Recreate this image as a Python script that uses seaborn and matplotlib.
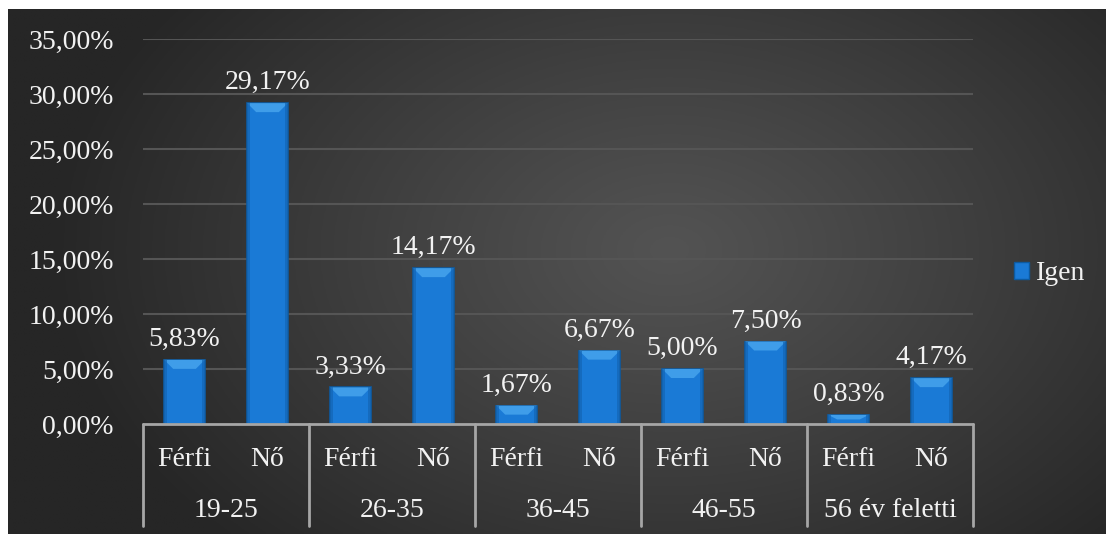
import numpy as np
import pandas as pd
import matplotlib
matplotlib.use("Agg")
import matplotlib.pyplot as plt
import matplotlib.transforms as mtransforms
from matplotlib.patches import Polygon, Patch
import seaborn as sns

# Data: share of "Igen" answers by age group and gender
age_groups = ["19-25", "26-35", "36-45", "46-55", "56 év feletti"]
genders = ["Férfi", "Nő"]
igen = [5.83, 29.17, 3.33, 14.17, 1.67, 6.67, 5.00, 7.50, 0.83, 4.17]
y_ticks = [0, 5, 10, 15, 20, 25, 30, 35]
series_name = "Igen"

rows = []
for gi, g in enumerate(age_groups):
    for si, s in enumerate(genders):
        rows.append({"key": f"{g}|{s}", "age": g, "gender": s,
                     "value": igen[gi * len(genders) + si] / 100})
df = pd.DataFrame(rows)

sns.set_theme(style="white")
plt.rcParams["font.family"] = ["Liberation Serif", "DejaVu Serif"]

W, H, DPI = 1106, 534, 100
fig = plt.figure(figsize=(W / DPI, H / DPI), dpi=DPI, facecolor="white")

# Dark radial-gradient panel
bg = fig.add_axes([8 / W, 0, 1 - 8 / W, 525 / H])
bg.set_axis_off()
gx = np.linspace(8, W, 400)
gy = np.linspace(9, H, 200)
X, Y = np.meshgrid(gx, gy)
t = np.sqrt(((X - 670) / 620) ** 2 + ((Y - 250) / 420) ** 2)
t = np.clip(t, 0, 1) ** 1.1
c0 = np.array([0x53, 0x53, 0x53]) / 255
c1 = np.array([0x26, 0x26, 0x26]) / 255
img = c0[None, None, :] * (1 - t[..., None]) + c1[None, None, :] * t[..., None]
bg.imshow(img, aspect="auto", extent=[0, 1, 0, 1], origin="upper")
bg.set_xlim(0, 1)
bg.set_ylim(0, 1)

# Plot area
left, right, top, bottom = 143, 973, 39, 424
ax = fig.add_axes([left / W, 1 - bottom / H, (right - left) / W, (bottom - top) / H])
ax.patch.set_alpha(0)

bar_color = "#1a7ad6"
sns.barplot(data=df, x="key", y="value", order=df["key"].tolist(),
            color=bar_color, saturation=1, width=0.49, ax=ax,
            edgecolor="#0d5aa0", linewidth=1.2, zorder=3)

ax.set_xlim(-0.5, len(df) - 0.5)
ax.set_ylim(0, 0.35)
ax.set_yticks([v / 100 for v in y_ticks])
ax.set_yticklabels([f"{v:.2f}".replace(".", ",") + "%" for v in y_ticks],
                   color="#f2f2f2", fontsize=20)
ax.tick_params(axis="y", length=0, pad=21)
ax.set_xticks([])
ax.set_xlabel("")
ax.set_ylabel("")
for sp in ax.spines.values():
    sp.set_visible(False)
ax.grid(False)
for v in y_ticks[1:]:
    ax.axhline(v / 100, color="#555555", linewidth=1.5, zorder=1)

# Bevel highlights on the bars
px_per_y = (bottom - top) / 0.35
px_per_x = (right - left) / len(df)
for p in ax.patches:
    x0, w, h = p.get_x(), p.get_width(), p.get_height()
    if h <= 0:
        continue
    bh = min(9 / px_per_y, h * 0.5)
    inset = min(9 / px_per_x, w * 0.3)
    ax.add_patch(Polygon([(x0, h), (x0 + w, h), (x0 + w - inset, h - bh), (x0 + inset, h - bh)],
                         closed=True, facecolor="#3f9de9", edgecolor="none", zorder=4))
    ax.add_patch(Polygon([(x0, 0), (x0 + 3 / px_per_x, 0), (x0 + 3 / px_per_x, h), (x0, h)],
                         closed=True, facecolor="#1466b4", edgecolor="none", zorder=4, alpha=0.7))
    ax.add_patch(Polygon([(x0 + w - 3 / px_per_x, 0), (x0 + w, 0), (x0 + w, h), (x0 + w - 3 / px_per_x, h)],
                         closed=True, facecolor="#1466b4", edgecolor="none", zorder=4, alpha=0.7))
    ax.annotate(f"{h * 100:.2f}".replace(".", ",") + "%", (x0 + w / 2, h),
                xytext=(0, 10), textcoords="offset points", ha="center", va="baseline",
                color="#f2f2f2", fontsize=20, zorder=5)

# Two-level category axis
trans = mtransforms.blended_transform_factory(ax.transData, fig.transFigure)
line_col = "#a6a6a6"
fig.add_artist(plt.Line2D([left / W, right / W], [1 - bottom / H] * 2,
                          color=line_col, linewidth=2, transform=fig.transFigure))
n = len(genders)
for gi in range(len(age_groups) + 1):
    xb = gi * n - 0.5
    fig.add_artist(plt.Line2D([xb, xb], [1 - bottom / H, 1 - 526 / H],
                              color=line_col, linewidth=2, transform=trans))
for i, r in df.iterrows():
    fig.text(i, 1 - 466 / H, r["gender"], transform=trans, ha="center",
             va="baseline", color="#f2f2f2", fontsize=20)
for gi, g in enumerate(age_groups):
    fig.text(gi * n + (n - 1) / 2, 1 - 517 / H, g, transform=trans, ha="center",
             va="baseline", color="#f2f2f2", fontsize=20)

# Legend
handle = Patch(facecolor=bar_color, edgecolor="#0d5aa0", label=series_name)
fig.legend(handles=[handle], loc="center left", bbox_to_anchor=(1014 / W, 1 - 274 / H),
           frameon=False, fontsize=20, labelcolor="#f2f2f2",
           borderpad=0, borderaxespad=0,
           handlelength=0.55, handleheight=0.55, handletextpad=0.25)

fig.savefig("out.png", dpi=DPI, facecolor="white")
